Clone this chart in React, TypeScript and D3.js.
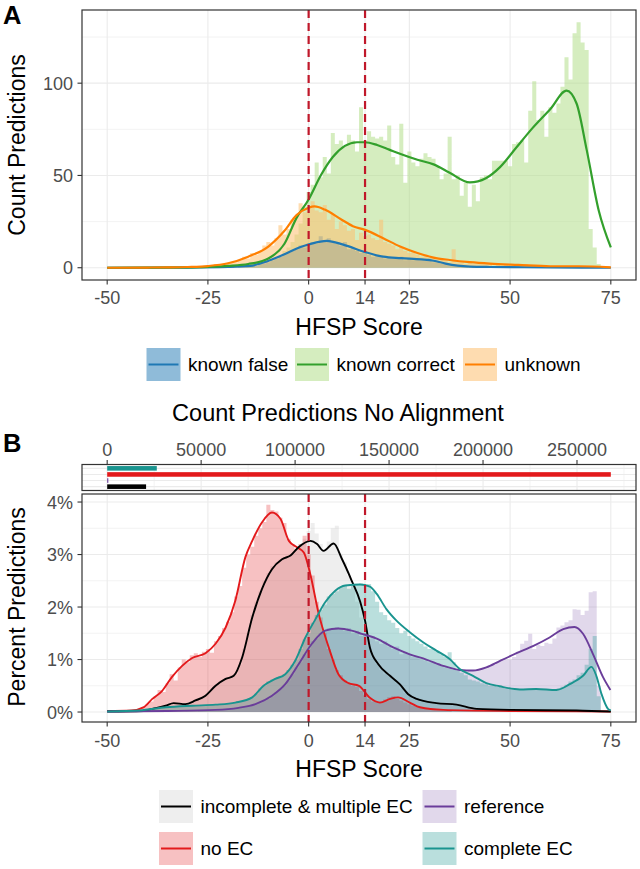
import React from "react";
import * as d3 from "d3";

// ---------- shared axis data ----------
const xBreaks = [-50, -25, 0, 14, 25, 50, 75];
const cutoffs = [0, 14];
const countTicks = [0, 50, 100];
const countMinor = [25, 75, 125];
const pctTicks = [0, 1, 2, 3, 4];
const pctMinor = [0.5, 1.5, 2.5, 3.5];
const barTicks = [0, 50000, 100000, 150000, 200000, 250000];
const barMinor = [25000, 75000, 125000, 175000, 225000, 275000];

// ---------- Panel A : histograms (binwidth 1, first bin centre given) ----------
const correctHistStart = -15;
const correctHist = [
  1, 1, 1, 2, 2, 3, 4, 5, 6, 9, 11, 14, 18, 24, 33,
  41, 45, 57, 49, 60, 51, 73, 67, 69, 66,
  72, 69, 63, 87, 69, 74, 71, 70, 71, 69,
  77, 60, 56, 78, 46, 63, 57, 55, 59, 62,
  60, 59, 55, 48, 51, 71, 48, 50, 39, 46,
  33, 45, 36, 49, 50, 48, 58, 58, 58, 58,
  55, 67, 68, 69, 57, 85, 101, 80, 85, 71,
  87, 84, 89, 98, 114, 102, 127, 133, 122, 118,
  21, 11, 2,
];
const unknownHistStart = -30;
const unknownHist = [
  0, 1, 0, 1, 0, 1, 1, 2, 1, 2,
  2, 3, 3, 4, 6, 5, 8, 7, 9, 12,
  14, 12, 16, 23, 18, 21, 26, 28, 35, 30,
  33, 36, 31, 30, 34, 26, 29, 21, 25, 23,
  20, 21, 15, 19, 17, 18, 16, 15, 26, 14,
  13, 12, 10, 11, 9, 8, 9, 7, 6, 7,
  5, 6, 4, 5, 4, 3, 10, 3, 3, 2,
  3, 2, 2, 3, 2, 2, 1, 2, 1, 2,
  1, 2, 1, 1, 2, 1, 1, 1, 1, 1,
  1, 1, 0, 1, 1, 0, 1, 1, 1, 1, 1, 1, 0,
];
const falseHistStart = -20;
const falseHist = [
  0, 1, 0, 1, 1, 1, 2, 1, 2, 3,
  3, 4, 5, 6, 7, 8, 9, 10, 12, 11,
  13, 14, 13, 17, 15, 16, 14, 13, 12, 14,
  10, 11, 9, 8, 9, 7, 6, 7, 6, 5,
  6, 5, 5, 6, 4, 5, 4, 5, 4, 4,
  5, 3, 3, 2, 2, 2, 1, 1, 1, 1,
  0, 1, 0, 0, 1, 0, 0, 0, 0, 0,
  0, 0, 0, 0, 0, 0, 0, 0, 0, 1,
];

// ---------- Panel A : density curves [score, count] ----------
const correctCurve: [number, number][] = [
  [-50, 0], [-40, 0.05], [-30, 0.2], [-25, 0.5], [-20, 1], [-15, 2], [-10, 5], [-6, 13],
  [-3, 27], [0, 37], [3, 50], [6, 60], [9, 66], [12, 68], [14, 68], [17, 66.5], [20, 64],
  [23, 61.5], [27, 58.5], [31, 56], [35, 51.5], [40, 46.2], [44, 48.5], [47.5, 54.5],
  [51.5, 65], [55.5, 75.5], [60, 86], [64, 96], [66.5, 89], [69, 64], [72, 31], [75, 11],
];
const unknownCurve: [number, number][] = [
  [-50, 0], [-40, 0.1], [-35, 0.2], [-30, 0.4], [-25, 0.9], [-20, 2.4], [-15, 6], [-10, 11.5],
  [-6, 20], [-3, 28.5], [0, 32.5], [1.5, 33.2], [4, 31.5], [8, 26.3], [11, 22.5], [14, 20.5],
  [18.5, 16], [22.7, 11.5], [27, 8], [31, 5.5], [35, 4.2], [40, 3], [45, 2.2], [52, 1.5],
  [60, 0.8], [67, 0.8], [75, 0.2],
];
const falseCurve: [number, number][] = [
  [-50, 0], [-30, 0.1], [-20, 0.4], [-14.5, 1], [-10.4, 3.4], [-6.3, 7], [-2, 11.2],
  [0.3, 12.8], [4.5, 14.6], [8.6, 12.5], [14, 8.5], [18.5, 6], [23, 5.2], [28, 4.5],
  [31, 3.8], [34, 2.2], [37, 1.1], [40, 0.6], [45, 0.4], [60, 0.2], [75, 0],
];

// ---------- Panel B : bar counts (no alignment) ----------
const barCats = ["complete EC", "no EC", "reference", "incomplete & multiple EC"];
const barCounts = [26400, 268000, 600, 20700];

// ---------- Panel B : histograms in percent ----------
const noECHistStart = -45;
const noECHist = [
  0.02, 0.03, 0.04, 0.06, 0.1, 0.15, 0.2, 0.3, 0.42, 0.38,
  0.55, 0.72, 0.6, 0.85, 1.0, 0.95, 1.08, 1.12, 1.05, 1.15,
  1.2, 1.13, 1.35, 1.45, 1.6, 1.72, 1.9, 2.2, 2.4, 2.75,
  3.0, 3.15, 3.36, 3.5, 3.62, 3.95, 3.85, 3.82, 3.7, 3.6,
  3.3, 3.2, 3.1, 3.2, 3.36, 3.0, 2.6, 2.1, 1.8, 1.5,
  1.2, 1.0, 0.8, 0.7, 0.6, 0.55, 0.5, 0.48, 0.4, 0.32,
  0.25, 0.2, 0.18, 0.2, 0.24, 0.28, 0.3, 0.25, 0.22, 0.18,
  0.15, 0.12, 0.1, 0.08, 0.06, 0.05, 0.04, 0.03, 0.03, 0.03, 0.02,
];
const incompleteHistStart = -40;
const incompleteHist = [
  0.05, 0.06, 0.08, 0.1, 0.12, 0.13, 0.17, 0.19, 0.16, 0.15,
  0.16, 0.2, 0.22, 0.26, 0.3, 0.35, 0.45, 0.5, 0.58, 0.62,
  0.64, 0.7, 0.72, 0.9, 1.2, 1.5, 1.85, 2.1, 2.3, 2.5,
  2.65, 2.78, 2.85, 2.9, 2.93, 2.98, 3.0, 3.1, 3.2, 3.3,
  3.45, 3.6, 3.4, 3.2, 3.1, 3.25, 3.5, 3.55, 3.0, 2.85,
  2.6, 2.4, 2.1, 1.8, 1.5, 1.25, 1.05, 0.92, 0.8, 0.72,
  0.7, 0.62, 0.55, 0.45, 0.36, 0.3, 0.26, 0.22, 0.2, 0.18,
  0.17, 0.17, 0.16, 0.15, 0.15, 0.14, 0.13, 0.12, 0.1, 0.08,
  0.07, 0.06, 0.05, 0.05, 0.04, 0.04, 0.04, 0.04, 0.03, 0.03,
  0.03, 0.03, 0.03, 0.03, 0.03, 0.03, 0.03, 0.03, 0.02, 0.02,
  0.02, 0.02, 0.02,
];
const completeHistStart = -40;
const completeHist = [
  0.05, 0.06, 0.07, 0.08, 0.08, 0.09, 0.1, 0.1, 0.11, 0.11,
  0.12, 0.12, 0.13, 0.13, 0.13, 0.13, 0.14, 0.14, 0.15, 0.15,
  0.16, 0.17, 0.18, 0.2, 0.22, 0.25, 0.28, 0.35, 0.45, 0.5,
  0.58, 0.62, 0.65, 0.68, 0.72, 0.8, 0.9, 1.0, 1.2, 1.38,
  1.5, 1.7, 1.85, 1.95, 2.05, 2.2, 2.25, 2.3, 2.38, 2.4,
  2.35, 2.42, 2.44, 2.45, 2.4, 2.44, 2.3, 2.1, 1.9, 1.85,
  1.75, 1.7, 1.6, 1.5, 1.55, 1.45, 1.4, 1.35, 1.3, 1.25,
  1.2, 1.2, 1.15, 1.1, 1.05, 1.14, 0.95, 0.8, 0.75, 0.7,
  0.62, 0.6, 0.58, 0.55, 0.53, 0.5, 0.5, 0.48, 0.47, 0.45,
  0.45, 0.44, 0.43, 0.43, 0.44, 0.44, 0.45, 0.43, 0.42, 0.42,
  0.42, 0.43, 0.45, 0.48, 0.52, 0.58, 0.62, 0.7, 0.75, 0.9,
  1.2, 1.45, 0.3,
];
const referenceHistStart = -30;
const referenceHist = [
  0.01, 0.01, 0.01, 0.02, 0.02, 0.02, 0.03, 0.03, 0.04, 0.04,
  0.05, 0.06, 0.07, 0.08, 0.09, 0.1, 0.13, 0.15, 0.18, 0.21,
  0.25, 0.3, 0.38, 0.44, 0.5, 0.6, 0.72, 0.85, 0.95, 1.1,
  1.2, 1.35, 1.4, 1.5, 1.55, 1.6, 1.58, 1.62, 1.6, 1.55,
  1.6, 1.5, 1.55, 1.45, 1.5, 1.4, 1.45, 1.35, 1.3, 1.35,
  1.25, 1.2, 1.25, 1.1, 1.15, 1.1, 1.05, 1.05, 1.0, 0.98,
  0.95, 0.95, 0.9, 0.88, 0.85, 0.83, 0.8, 0.78, 0.8, 0.75,
  0.78, 0.8, 0.8, 0.82, 0.85, 0.88, 0.9, 0.95, 0.98, 1.0,
  1.0, 1.05, 1.15, 1.3, 1.36, 1.49, 1.2, 1.28, 1.26, 1.32,
  1.3, 1.4, 1.61, 1.65, 1.71, 1.75, 1.96, 1.95, 1.85, 1.93,
  2.28, 2.3, 0.5,
];

// ---------- Panel B : density curves [score, percent] ----------
const noECCurve: [number, number][] = [
  [-50, 0.02], [-44, 0.03], [-41, 0.09], [-38.8, 0.25], [-36.4, 0.4], [-33.9, 0.67],
  [-31.4, 0.88], [-28.9, 1.03], [-25.6, 1.12], [-23.1, 1.3], [-20.6, 1.61], [-18.2, 2.12],
  [-15.7, 2.95], [-14, 3.26], [-11.6, 3.61], [-9.1, 3.8], [-7, 3.68], [-4.9, 3.26],
  [-2.9, 3.14], [-1.2, 3.04], [0.4, 2.63], [2.5, 1.87], [5, 1.23], [7.4, 0.72], [9.9, 0.55],
  [12.5, 0.5], [15.2, 0.27], [17.7, 0.18], [20.2, 0.25], [22.2, 0.28], [25.1, 0.18],
  [27.6, 0.09], [33.4, 0.04], [50, 0.02], [75, 0.01],
];
const incompleteCurve: [number, number][] = [
  [-50, 0.01], [-41, 0.02], [-38.8, 0.06], [-35.5, 0.12], [-33.5, 0.17], [-30.6, 0.15],
  [-28.1, 0.22], [-25.6, 0.31], [-23.1, 0.5], [-20.6, 0.63], [-18.6, 0.69], [-16.5, 1.04],
  [-14, 1.8], [-11.6, 2.34], [-9.1, 2.72], [-6.6, 2.91], [-4.5, 2.98], [-2.5, 3.14],
  [0.4, 3.26], [2.1, 3.2], [3.7, 3.07], [6.2, 3.21], [8.3, 2.91], [10.7, 2.5], [12.8, 2.1],
  [14, 1.74], [15.2, 1.23], [17.3, 0.91], [20.2, 0.69], [22.6, 0.53], [24.7, 0.34],
  [26.8, 0.25], [31.7, 0.17], [36.7, 0.14], [41.7, 0.06], [50, 0.04], [66.5, 0.03], [75, 0.01],
];
const completeCurve: [number, number][] = [
  [-50, 0.01], [-42, 0.03], [-35.5, 0.09], [-28.9, 0.12], [-23.1, 0.14], [-18.2, 0.18],
  [-14, 0.28], [-11.2, 0.5], [-8.3, 0.63], [-5.8, 0.72], [-3.3, 0.98], [-0.8, 1.42],
  [1.7, 1.77], [4.1, 2.09], [6.6, 2.31], [9.1, 2.41], [12.8, 2.43], [15.2, 2.39],
  [16.9, 2.25], [19.3, 1.96], [21.8, 1.74], [25.1, 1.52], [28.4, 1.33], [31.7, 1.17],
  [35, 1.01], [37.5, 0.82], [40.8, 0.69], [44.1, 0.55], [47.4, 0.49], [52.4, 0.43],
  [56.5, 0.44], [61.5, 0.42], [64.8, 0.53], [68.1, 0.69], [70.2, 0.86], [71.4, 0.69],
  [72.7, 0.34], [74.3, 0.06], [75, 0.03],
];
const referenceCurve: [number, number][] = [
  [-50, 0.01], [-35, 0.02], [-23.1, 0.04], [-17.4, 0.08], [-13.2, 0.15], [-9.1, 0.31],
  [-5.8, 0.53], [-2.5, 0.91], [0.8, 1.3], [4.1, 1.55], [7.4, 1.59], [10.7, 1.55],
  [13.2, 1.49], [16.9, 1.4], [21, 1.23], [25.1, 1.1], [29.2, 1.0], [33.4, 0.88],
  [37.5, 0.8], [40.8, 0.79], [44.1, 0.85], [47.4, 0.97], [51.6, 1.12], [55.8, 1.26],
  [59.8, 1.42], [63.2, 1.58], [66, 1.62], [68.1, 1.49], [70.6, 1.1], [73.1, 0.66], [74.9, 0.42],
];

const FONT = "'Liberation Sans', Arial, Helvetica, sans-serif";
const GRID = "#ebebeb";
const AXIS = "#333333";
const TICKTXT = "#4d4d4d";
const CUT = "#c0182a";

const C_FALSE = "#1f78b4";
const C_CORRECT = "#33a02c";
const C_UNKNOWN = "#ff7f00";
const C_INC = "#000000";
const C_REF = "#6a3d9a";
const C_NOEC = "#e31a1c";
const C_COMP = "#1a948f";

type Pt = [number, number];

function histPoints(start: number, vals: number[]): Pt[] {
  const pts: Pt[] = [];
  vals.forEach((v, i) => {
    const c = start + i;
    pts.push([c - 0.5, v]);
    pts.push([c + 0.5, v]);
  });
  return pts;
}

export default function App() {
  const L = 82, R = 636;
  const x = d3.scaleLinear().domain([-56.25, 81.25]).range([L, R]);

  // Panel A
  const aTop = 10, aBot = 280;
  const yA = d3.scaleLinear().domain([-6.65, 139.65]).range([aBot, aTop]);

  // Panel B bars
  const bbTop = 464.5, bbBot = 490.5;
  const xBar = d3.scaleLinear().domain([-13400, 281400]).range([L, R]);
  const yBar = d3.scaleBand<string>().domain(barCats).range([bbTop, bbBot]).paddingInner(0.25).paddingOuter(0.255);
  const barColor: Record<string, string> = {
    "complete EC": C_COMP, "no EC": C_NOEC, reference: C_REF, "incomplete & multiple EC": C_INC,
  };

  // Panel B main
  const bTop = 494, bBot = 722;
  const yB = d3.scaleLinear().domain([-0.19, 4.153]).range([bBot, bTop]);

  const areaFor = (y: d3.ScaleLinear<number, number>) =>
    d3.area<Pt>().x((d) => x(d[0])).y0(y(0)).y1((d) => y(d[1]));
  const lineFor = (y: d3.ScaleLinear<number, number>) =>
    d3.line<Pt>().x((d) => x(d[0])).y((d) => y(d[1])).curve(d3.curveMonotoneX);

  const areaA = areaFor(yA);
  const lineA = lineFor(yA);
  const areaB = areaFor(yB);
  const lineB = lineFor(yB);

  const xGrid = (top: number, bot: number) =>
    xBreaks.map((b) => (
      <line key={"xg" + b} x1={x(b)} x2={x(b)} y1={top} y2={bot} stroke={GRID} strokeWidth={1.1} />
    ));

  const xAxis = (bot: number, labelY: number) => (
    <g>
      {xBreaks.map((b) => (
        <g key={"xt" + b}>
          <line x1={x(b)} x2={x(b)} y1={bot} y2={bot + 4.5} stroke={AXIS} strokeWidth={1.1} />
          <text x={x(b)} y={labelY} textAnchor="middle" fontSize={18} fill={TICKTXT} fontFamily={FONT}>
            {b}
          </text>
        </g>
      ))}
    </g>
  );

  const legendKey = (
    kx: number, ky: number, fill: string, fillOp: number, stroke: string, label: string, textY: number
  ) => (
    <g key={label}>
      <rect x={kx} y={ky} width={34} height={33} fill={fill} fillOpacity={fillOp} />
      <line x1={kx + 2} x2={kx + 32} y1={ky + 16.5} y2={ky + 16.5} stroke={stroke} strokeWidth={2} />
      <text x={kx + 41.5} y={textY} fontSize={19} fill="#000" fontFamily={FONT}>
        {label}
      </text>
    </g>
  );

  return (
    <svg
      width={640}
      height={869}
      style={{ position: "absolute", left: 0, top: 0, background: "#fff" }}
      fontFamily={FONT}
    >
      <rect x={0} y={0} width={640} height={869} fill="#fff" />

      {/* ================= PANEL A ================= */}
      <text x={3} y={23.5} fontSize={25.5} fontWeight="bold" fill="#000">A</text>
      <g>
        {countMinor.map((t) => (
          <line key={"amn" + t} x1={L} x2={R} y1={yA(t)} y2={yA(t)} stroke={GRID} strokeWidth={0.6} />
        ))}
        {countTicks.map((t) => (
          <line key={"amj" + t} x1={L} x2={R} y1={yA(t)} y2={yA(t)} stroke={GRID} strokeWidth={1.1} />
        ))}
        {xGrid(aTop, aBot)}

        <path d={areaA(histPoints(correctHistStart, correctHist)) || ""} fill="#b2df8a" fillOpacity={0.55} />
        <path d={areaA(histPoints(falseHistStart, falseHist)) || ""} fill={C_FALSE} fillOpacity={0.45} />
        <path d={areaA(histPoints(unknownHistStart, unknownHist)) || ""} fill="#fdbf6f" fillOpacity={0.55} />

        <path d={lineA(falseCurve) || ""} fill="none" stroke={C_FALSE} strokeWidth={2.2} />
        <path d={lineA(correctCurve) || ""} fill="none" stroke={C_CORRECT} strokeWidth={2.2} />
        <path d={lineA(unknownCurve) || ""} fill="none" stroke={C_UNKNOWN} strokeWidth={2.2} />

        {cutoffs.map((c) => (
          <line key={"ac" + c} x1={x(c)} x2={x(c)} y1={aTop} y2={aBot} stroke={CUT} strokeWidth={2.2} strokeDasharray="8,5" />
        ))}
        <rect x={L} y={aTop} width={R - L} height={aBot - aTop} fill="none" stroke={AXIS} strokeWidth={1.2} />

        {countTicks.map((t) => (
          <g key={"ayt" + t}>
            <line x1={L - 4.5} x2={L} y1={yA(t)} y2={yA(t)} stroke={AXIS} strokeWidth={1.1} />
            <text x={73} y={yA(t)} dy="0.36em" textAnchor="end" fontSize={18} fill={TICKTXT}>{t}</text>
          </g>
        ))}
        {xAxis(aBot, 304)}
        <text x={(L + R) / 2} y={334.5} textAnchor="middle" fontSize={23} fill="#000">HFSP Score</text>
        <text transform={`translate(24.5,${(aTop + aBot) / 2}) rotate(-90)`} textAnchor="middle" fontSize={23} fill="#000">
          Count Predictions
        </text>

        {legendKey(146.5, 348, C_FALSE, 0.5, C_FALSE, "known false", 371)}
        {legendKey(295, 348, "#b2df8a", 0.55, C_CORRECT, "known correct", 371)}
        {legendKey(463, 348, "#fdbf6f", 0.55, C_UNKNOWN, "unknown", 371)}
      </g>

      {/* ================= PANEL B ================= */}
      <text x={3} y={451.5} fontSize={25.5} fontWeight="bold" fill="#000">B</text>
      <text x={338} y={421} textAnchor="middle" fontSize={23.5} fill="#000">Count Predictions No Alignment</text>

      {/* bar panel */}
      <g>
        {barMinor.map((t) => (
          <line key={"bbm" + t} x1={xBar(t)} x2={xBar(t)} y1={bbTop} y2={bbBot} stroke={GRID} strokeWidth={0.6} />
        ))}
        {barTicks.map((t) => (
          <line key={"bbj" + t} x1={xBar(t)} x2={xBar(t)} y1={bbTop} y2={bbBot} stroke={GRID} strokeWidth={1.1} />
        ))}
        {barCats.map((c) => (
          <line key={"bbh" + c} x1={L} x2={R} y1={(yBar(c) || 0) + yBar.bandwidth() / 2} y2={(yBar(c) || 0) + yBar.bandwidth() / 2} stroke={GRID} strokeWidth={1.1} />
        ))}
        {barCats.map((c, i) => (
          <rect
            key={"bar" + c}
            x={xBar(0)}
            y={yBar(c)}
            width={Math.max(0.8, xBar(barCounts[i]) - xBar(0))}
            height={yBar.bandwidth()}
            fill={barColor[c]}
          />
        ))}
        <rect x={L} y={bbTop} width={R - L} height={bbBot - bbTop} fill="none" stroke={AXIS} strokeWidth={1.2} />
        {barTicks.map((t) => (
          <g key={"bbt" + t}>
            <line x1={xBar(t)} x2={xBar(t)} y1={bbTop - 4.5} y2={bbTop} stroke={AXIS} strokeWidth={1.1} />
            <text x={xBar(t)} y={456} textAnchor="middle" fontSize={18} fill={TICKTXT}>{t}</text>
          </g>
        ))}
      </g>

      {/* main density panel */}
      <g>
        {pctMinor.map((t) => (
          <line key={"bmn" + t} x1={L} x2={R} y1={yB(t)} y2={yB(t)} stroke={GRID} strokeWidth={0.6} />
        ))}
        {pctTicks.map((t) => (
          <line key={"bmj" + t} x1={L} x2={R} y1={yB(t)} y2={yB(t)} stroke={GRID} strokeWidth={1.1} />
        ))}
        {xGrid(bTop, bBot)}

        <path d={areaB(histPoints(incompleteHistStart, incompleteHist)) || ""} fill="#bdbdbd" fillOpacity={0.25} />
        <path d={areaB(histPoints(noECHistStart, noECHist)) || ""} fill={C_NOEC} fillOpacity={0.27} />
        <path d={areaB(histPoints(referenceHistStart, referenceHist)) || ""} fill={C_REF} fillOpacity={0.2} />
        <path d={areaB(histPoints(completeHistStart, completeHist)) || ""} fill={C_COMP} fillOpacity={0.3} />

        <path d={lineB(noECCurve) || ""} fill="none" stroke={C_NOEC} strokeWidth={1.9} />
        <path d={lineB(incompleteCurve) || ""} fill="none" stroke={C_INC} strokeWidth={1.9} />
        <path d={lineB(referenceCurve) || ""} fill="none" stroke={C_REF} strokeWidth={1.9} />
        <path d={lineB(completeCurve) || ""} fill="none" stroke={C_COMP} strokeWidth={1.9} />

        {cutoffs.map((c) => (
          <line key={"bc" + c} x1={x(c)} x2={x(c)} y1={bTop} y2={bBot} stroke={CUT} strokeWidth={2.2} strokeDasharray="8,5" />
        ))}
        <rect x={L} y={bTop} width={R - L} height={bBot - bTop} fill="none" stroke={AXIS} strokeWidth={1.2} />

        {pctTicks.map((t) => (
          <g key={"byt" + t}>
            <line x1={L - 4.5} x2={L} y1={yB(t)} y2={yB(t)} stroke={AXIS} strokeWidth={1.1} />
            <text x={73} y={yB(t)} dy="0.36em" textAnchor="end" fontSize={18} fill={TICKTXT}>{t + "%"}</text>
          </g>
        ))}
        {xAxis(bBot, 747)}
        <text x={(L + R) / 2} y={777} textAnchor="middle" fontSize={23} fill="#000">HFSP Score</text>
        <text transform={`translate(24.5,${(bTop + bBot) / 2 - 1}) rotate(-90)`} textAnchor="middle" fontSize={23} fill="#000">
          Percent Predictions
        </text>

        {legendKey(159, 790, "#bdbdbd", 0.25, C_INC, "incomplete & multiple EC", 813)}
        {legendKey(422.5, 790, C_REF, 0.2, C_REF, "reference", 813)}
        {legendKey(159, 832, C_NOEC, 0.27, C_NOEC, "no EC", 855)}
        {legendKey(422.5, 832, C_COMP, 0.3, C_COMP, "complete EC", 855)}
      </g>
    </svg>
  );
}
